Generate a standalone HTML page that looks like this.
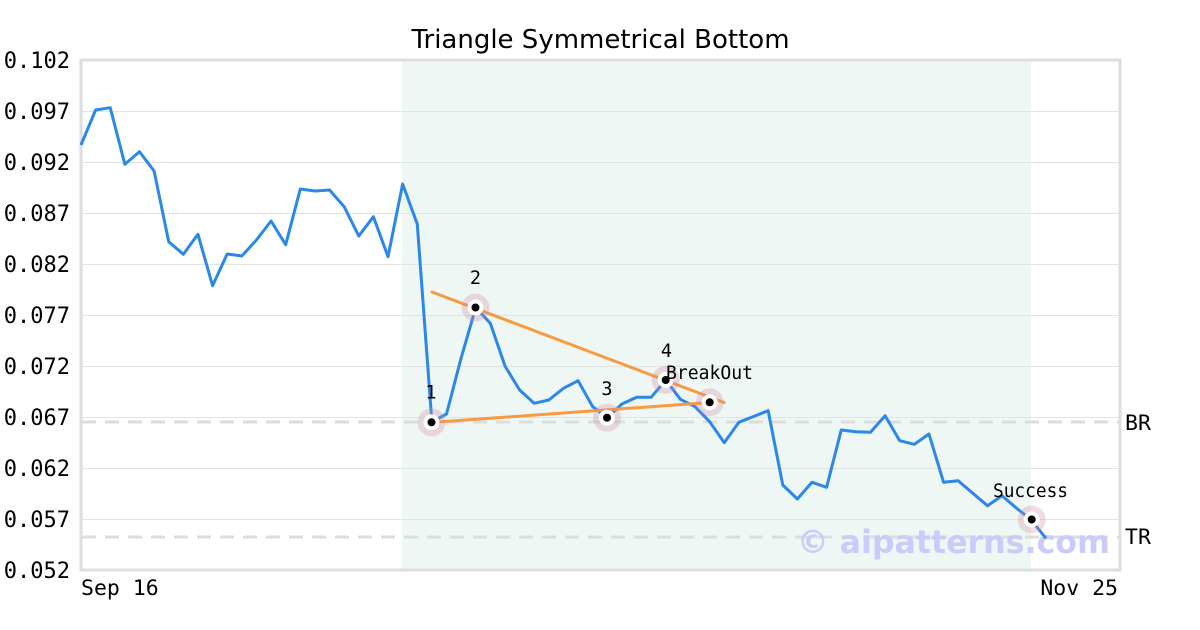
<!DOCTYPE html>
<html>
<head>
<meta charset="utf-8">
<style>
html,body{margin:0;padding:0;background:#fff;}
svg{display:block;}
.mono{font-family:"DejaVu Sans Mono","Liberation Mono",monospace;}
.sans{font-family:"DejaVu Sans","Liberation Sans",sans-serif;}
</style>
</head>
<body>
<svg width="1200" height="630" viewBox="0 0 1200 630" xmlns="http://www.w3.org/2000/svg">
<rect x="0" y="0" width="1200" height="630" fill="#fff"/>
<!-- shaded region -->
<rect x="402" y="60" width="629" height="510" fill="#eef7f3"/>
<!-- gridlines -->
<g stroke="#e3e3e3" stroke-width="1">
<line x1="81" y1="111.5" x2="1120" y2="111.5"/>
<line x1="81" y1="162.5" x2="1120" y2="162.5"/>
<line x1="81" y1="213.5" x2="1120" y2="213.5"/>
<line x1="81" y1="264.5" x2="1120" y2="264.5"/>
<line x1="81" y1="315.5" x2="1120" y2="315.5"/>
<line x1="81" y1="366.5" x2="1120" y2="366.5"/>
<line x1="81" y1="417.5" x2="1120" y2="417.5"/>
<line x1="81" y1="468.5" x2="1120" y2="468.5"/>
<line x1="81" y1="519.5" x2="1120" y2="519.5"/>
</g>
<!-- dashed BR / TR -->
<g stroke="#dddddd" stroke-width="3" stroke-dasharray="14,9">
<line x1="82" y1="422" x2="1120" y2="422"/>
<line x1="82" y1="537" x2="1120" y2="537"/>
</g>
<!-- watermark -->
<text x="797" y="553" class="sans" font-size="32" font-weight="bold" fill="#cbcbfb" textLength="313" lengthAdjust="spacingAndGlyphs">© aipatterns.com</text>
<!-- plot border -->
<rect x="81" y="60" width="1039" height="510" fill="none" stroke="#dedede" stroke-width="3"/>
<!-- data line -->
<polyline fill="none" stroke="#2b87e8" stroke-width="3" stroke-linejoin="round" points="
81,145 95.62,110 110.24,107.7 124.86,164.3 139.48,151.7 154.1,171 168.72,241.7 183.34,254.3 197.96,234.3 212.58,285.7
227.2,254 241.82,256 256.44,240 271.06,221 285.68,244.7 300.3,189 314.92,191 329.54,190 344.16,206.7 358.78,236
373.4,216.7 388.02,256.7 402.64,184 417.26,224 431.88,422 446.5,414 461.12,358 475.74,307.7 490.36,323.3 504.98,366
519.6,390 534.22,403.3 548.84,400 563.46,388.3 578.08,380.7 592.7,406.7 607.32,417.7 621.94,404 636.56,397.3 651.18,397.3
665.8,380 680.42,399.3 695.04,406.7 709.66,421.7 724.28,442.7 738.9,422.3 753.52,416.5 768.14,410.7 782.76,485 797.38,499
812,482.3 826.62,487.3 841.24,430 855.86,431.7 870.48,432.3 885.1,415.7 899.72,440.7 914.34,444.3 928.96,434 943.58,482.3
958.2,480.7 972.82,493.3 987.44,505.7 1002.06,495.7 1016.68,508.3 1031.3,520 1045.92,538.3"/>
<!-- trendlines -->
<g stroke="#f89a3f" stroke-width="3" stroke-linecap="round">
<line x1="432" y1="292" x2="724" y2="402.5"/>
<line x1="431" y1="422.5" x2="710" y2="402.5"/>
</g>
<!-- markers -->
<g fill="rgba(205,140,160,0.3)">
<circle cx="431.5" cy="422.3" r="14"/>
<circle cx="475.5" cy="307.5" r="14"/>
<circle cx="607" cy="417.7" r="14"/>
<circle cx="665.7" cy="380" r="14"/>
<circle cx="709.7" cy="402.3" r="14"/>
<circle cx="1031.7" cy="519.5" r="14"/>
</g>
<g fill="#fff">
<circle cx="431.5" cy="422.3" r="8"/>
<circle cx="475.5" cy="307.5" r="8"/>
<circle cx="607" cy="417.7" r="8"/>
<circle cx="665.7" cy="380" r="8"/>
<circle cx="709.7" cy="402.3" r="8"/>
<circle cx="1031.7" cy="519.5" r="8"/>
</g>
<g fill="#000">
<circle cx="431.5" cy="422.3" r="4"/>
<circle cx="475.5" cy="307.5" r="4"/>
<circle cx="607" cy="417.7" r="4"/>
<circle cx="665.7" cy="380" r="4"/>
<circle cx="709.7" cy="402.3" r="4"/>
<circle cx="1031.7" cy="519.5" r="4"/>
</g>
<!-- point labels -->
<g class="mono" font-size="18.5" fill="#000">
<text x="431" y="398.5" text-anchor="middle">1</text>
<text x="475.5" y="284" text-anchor="middle">2</text>
<text x="607" y="395" text-anchor="middle">3</text>
<text x="666.5" y="357" text-anchor="middle">4</text>
<text x="666" y="379" textLength="87" lengthAdjust="spacingAndGlyphs">BreakOut</text>
<text x="993" y="497" textLength="75" lengthAdjust="spacingAndGlyphs">Success</text>
</g>
<!-- y-axis labels -->
<g class="mono" font-size="22" fill="#000" text-anchor="end">
<text x="70" y="68">0.102</text>
<text x="70" y="119">0.097</text>
<text x="70" y="170">0.092</text>
<text x="70" y="221">0.087</text>
<text x="70" y="272">0.082</text>
<text x="70" y="323">0.077</text>
<text x="70" y="374">0.072</text>
<text x="70" y="425">0.067</text>
<text x="70" y="476">0.062</text>
<text x="70" y="527">0.057</text>
<text x="70" y="578">0.052</text>
</g>
<!-- x labels -->
<g class="mono" font-size="21.5" fill="#000">
<text x="81" y="595">Sep 16</text>
<text x="1118" y="595" text-anchor="end">Nov 25</text>
<text x="1125" y="430">BR</text>
<text x="1125" y="544">TR</text>
</g>
<!-- title -->
<text x="600.5" y="48" class="sans" font-size="26" fill="#000" text-anchor="middle">Triangle Symmetrical Bottom</text>
</svg>
</body>
</html>
